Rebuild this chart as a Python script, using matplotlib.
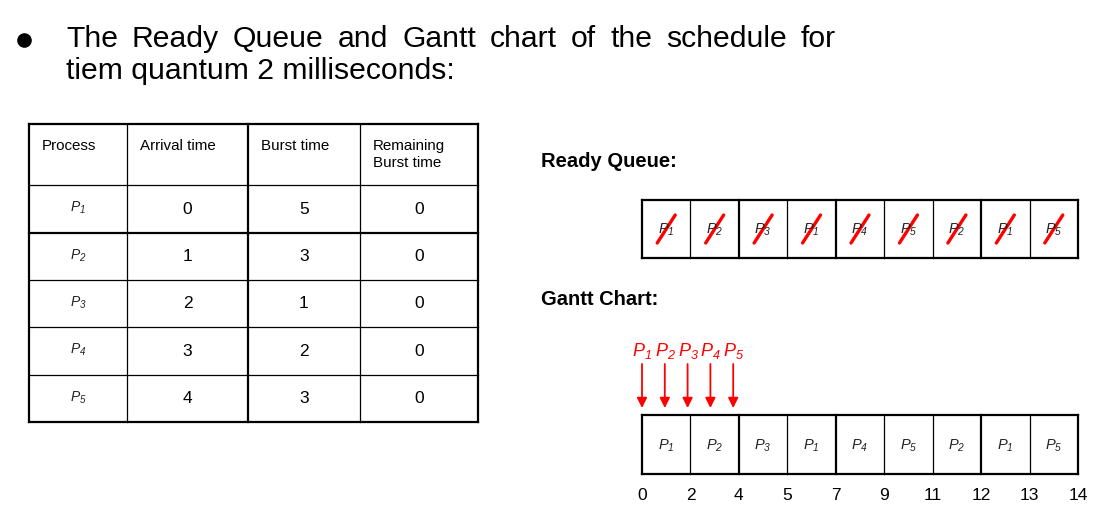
import matplotlib.pyplot as plt

plt.rcParams['font.family'] = ['Liberation Sans', 'DejaVu Sans']
plt.rcParams['mathtext.fontset'] = 'custom'
plt.rcParams['mathtext.it'] = 'Liberation Sans:italic'
plt.rcParams['mathtext.rm'] = 'Liberation Sans:italic'

# data
processes = ['1', '2', '3', '4', '5']
arrival = [0, 1, 2, 3, 4]
burst = [5, 3, 1, 2, 3]
remaining = [0, 0, 0, 0, 0]
headers = ['Process', 'Arrival time', 'Burst time', 'Remaining\nBurst time']
queue_order = ['1', '2', '3', '1', '4', '5', '2', '1', '5']
gantt_order = ['1', '2', '3', '1', '4', '5', '2', '1', '5']
gantt_times = [0, 2, 4, 5, 7, 9, 11, 12, 13, 14]
title_1 = 'The Ready Queue and Gantt chart of the schedule for'
title_2 = 'tiem quantum 2 milliseconds:'

fig = plt.figure(figsize=(11.13, 5.23), dpi=100)
ax = fig.add_axes([0, 0, 1, 1])
ax.set_xlim(0, 1113)
ax.set_ylim(523, 0)
ax.axis('off')

# title, justified on line one
ax.plot([24], [40], 'o', color='black', markersize=9.5)
fs_title = 21.7
fig.canvas.draw()
r = fig.canvas.get_renderer()
words = title_1.split()
widths = []
for w in words:
    t = ax.text(0, 0, w, fontsize=fs_title)
    bb = t.get_window_extent(renderer=r)
    widths.append(bb.width)
    t.remove()
x0, x1 = 66, 836
gap = (x1 - x0 - sum(widths)) / (len(words) - 1)
x = x0
for w, wd in zip(words, widths):
    ax.text(x, 47, w, fontsize=fs_title, va='baseline')
    x += wd + gap
ax.text(x0, 79, title_2, fontsize=fs_title, va='baseline')

# table
col_x = [29, 127, 248, 360, 478]
row_y = [124, 185, 233, 280, 327, 375, 422]
thick_cols = [0, 2, 4]
thick_rows = [0, 2, 6]
for i, cx in enumerate(col_x):
    ax.plot([cx, cx], [row_y[0], row_y[-1]], color='black',
            lw=1.6 if i in thick_cols else 0.9, solid_capstyle='projecting')
for j, ry in enumerate(row_y):
    ax.plot([col_x[0], col_x[-1]], [ry, ry], color='black',
            lw=1.6 if j in thick_rows else 0.9, solid_capstyle='projecting')
for i, h in enumerate(headers):
    for n, line in enumerate(h.split('\n')):
        ax.text(col_x[i] + 13, 150 + n * 17, line, fontsize=10.9, va='baseline')
for k, p in enumerate(processes):
    yc = (row_y[k + 1] + row_y[k + 2]) / 2
    ax.text((col_x[0] + col_x[1]) / 2, yc - 1, '$P_{%s}$' % p, fontsize=10,
            ha='center', va='center', color='#222222')
    vals = [arrival[k], burst[k], remaining[k]]
    for c, v in enumerate(vals):
        ax.text((col_x[c + 1] + col_x[c + 2]) / 2, yc, str(v), fontsize=12.5,
                ha='center', va='center')

# ready queue
ax.text(541, 167, 'Ready Queue:', fontsize=14.5, fontweight='bold', va='baseline')
bx0, bx1 = 642, 1078
cell_w = (bx1 - bx0) / len(queue_order)
thick_edges = [0, 2, 4, 7, 9]

def draw_row(y_top, y_bot, labels, slash):
    for e in range(len(labels) + 1):
        ex = bx0 + e * cell_w
        ax.plot([ex, ex], [y_top, y_bot], color='black',
                lw=1.6 if e in thick_edges else 0.9, solid_capstyle='projecting')
    for yy in (y_top, y_bot):
        ax.plot([bx0, bx1], [yy, yy], color='black', lw=1.6,
                solid_capstyle='projecting')
    yc = (y_top + y_bot) / 2
    for n, p in enumerate(labels):
        xc = bx0 + (n + 0.5) * cell_w
        ax.text(xc, yc + 1, '$P_{%s}$' % p, fontsize=10.5, ha='center',
                va='center', color='#222222')
        if slash:
            ax.plot([xc - 9, xc + 9], [yc + 14, yc - 14], color='red',
                    lw=2.4, solid_capstyle='round')

draw_row(200, 258, queue_order, True)

# gantt chart
ax.text(541, 305, 'Gantt Chart:', fontsize=14.5, fontweight='bold', va='baseline')
draw_row(415, 474, gantt_order, False)
for e, tv in enumerate(gantt_times):
    ax.text(bx0 + e * cell_w, 495, str(tv), fontsize=12.5, ha='center', va='center')

arr_step = 22.8
for p, a in zip(processes, arrival):
    ax_x = bx0 + a * arr_step
    ax.annotate('', xy=(ax_x, 408), xytext=(ax_x, 364),
                arrowprops=dict(arrowstyle='-|>', color='red', lw=1.3,
                                mutation_scale=15, shrinkA=0, shrinkB=0))
    ax.text(ax_x - 10, 356, '$P_{%s}$' % p, fontsize=13, color='red',
            va='baseline')

fig.savefig('out.png', dpi=100)
